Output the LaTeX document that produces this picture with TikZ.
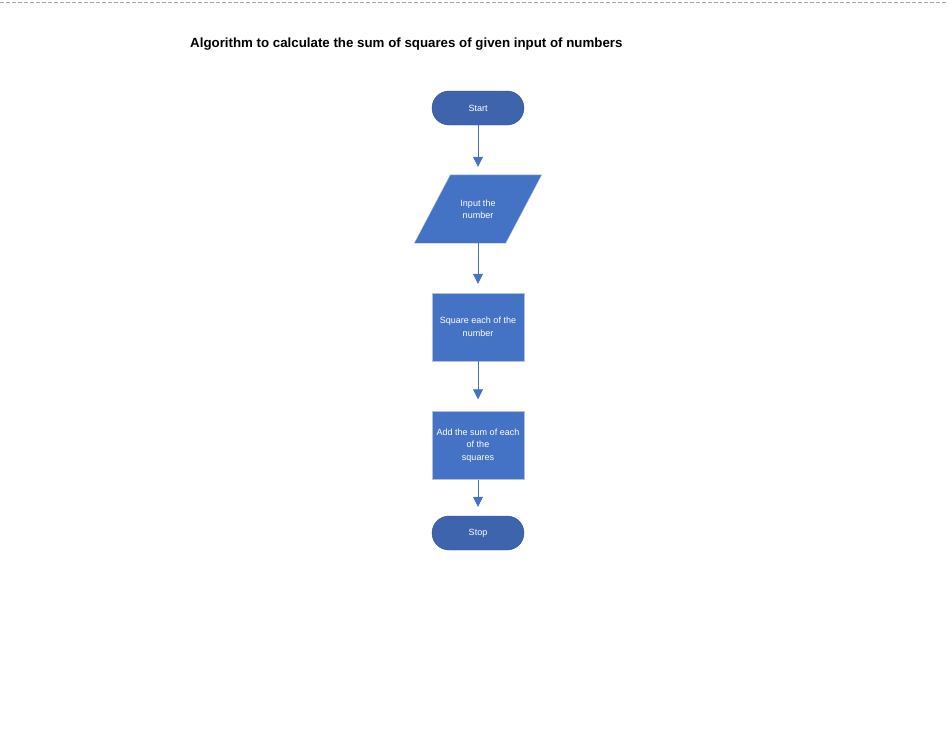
\documentclass[tikz,border=0pt]{standalone}
\usepackage{fontspec}
\setmainfont{Liberation Sans}
\usetikzlibrary{arrows.meta,backgrounds}
\definecolor{bleuboite}{HTML}{4472C4}
\definecolor{bleuterm}{HTML}{3F64AE}
\definecolor{bordterm}{HTML}{2F528F}
\definecolor{bordboite}{HTML}{B4C0D8}
\begin{document}
\begin{tikzpicture}[x=1pt,y=-1pt,
    terminal/.style={rectangle,rounded corners=17pt,minimum width=92pt,minimum height=34pt,
        fill=bleuterm,draw=bordterm,text=white,font=\fontsize{9}{12.5}\selectfont},
    boite/.style={rectangle,minimum width=92pt,minimum height=68pt,fill=bleuboite,
        draw=bordboite,text=white,align=center,font=\fontsize{9}{12.5}\selectfont},
    entree/.style={rectangle,minimum width=91pt,minimum height=68pt,text=white,
        align=center,font=\fontsize{9}{12}\selectfont},
    fleche/.style={draw=bleuboite,thick,-{Triangle[width=10pt,length=10pt]},shorten >=9pt}]
\useasboundingbox (0,0) rectangle (948,731);
% ligne pointillée en haut de la page
\draw[gray!70,dash pattern=on 4pt off 2pt] (0,2) -- (948,2);
\node[anchor=west,inner sep=0pt,font=\fontsize{13.3}{15}\selectfont\bfseries] (titre) at (190,44.5)
    {Algorithm to calculate the sum of squares of given input of numbers};
\node[terminal] (debut) at (478,108) {Start};
\node[entree] (saisie) at (478,209) {Input the\\number};
\begin{scope}[on background layer]
    \filldraw[fill=bleuboite,draw=bordboite]
        ([xshift=18pt]saisie.north west) -- ([xshift=18pt]saisie.north east)
        -- ([xshift=-18pt]saisie.south east) -- ([xshift=-18pt]saisie.south west) -- cycle;
\end{scope}
\node[boite] (carre) at (478,327) {Square each of the\\number};
\node[boite] (somme) at (478,445.5) {Add the sum of each\\of the\\squares};
\node[terminal] (fin) at (478,533) {Stop};
\draw[fleche,shorten >=8pt] (debut) -- (saisie);
\draw[fleche] (saisie) -- (carre);
\draw[fleche,shorten >=12pt] (carre) -- (somme);
\draw[fleche] (somme) -- (fin);
\end{tikzpicture}
\end{document}
